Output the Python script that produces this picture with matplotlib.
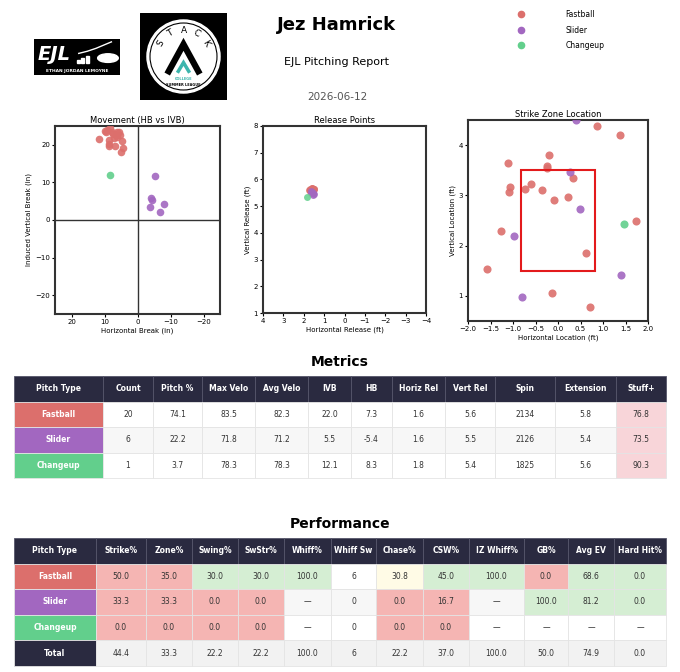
import matplotlib
matplotlib.use("Agg")
import matplotlib.pyplot as plt
from matplotlib.patches import Rectangle, Circle
from matplotlib.lines import Line2D
import numpy as np

W, H = 680, 672

# ---------------- data ----------------
pitch_types = ["Fastball", "Slider", "Changeup"]
pitch_colors = {"Fastball": "#dc6f6c", "Slider": "#a267c0", "Changeup": "#62cf8c"}

# movement (HB, IVB)
fb_hb = [11.7, 9.8, 9.5, 8.3, 8.7, 8.5, 8.5, 6.8, 7.3, 6.5, 6.1, 5.7, 5.3, 4.8, 4.3, 5.0, 7.8, 6.3, 9.1, 7.1]
fb_ivb = [21.6, 23.8, 23.3, 24.4, 21.3, 20.1, 19.6, 19.8, 22.9, 22.5, 22.0, 23.3, 22.5, 21.0, 19.1, 18.1, 23.5, 23.5, 24.0, 21.9]
sl_hb = [-5.4, -4.2, -4.3, -3.9, -8.1, -6.7]
sl_ivb = [11.8, 5.9, 5.3, 3.4, 4.3, 2.2]
ch_hb = [8.3]
ch_ivb = [12.1]

# release points
fb_rel_x = [1.62, 1.55, 1.68, 1.58, 1.71, 1.49, 1.64, 1.60, 1.53, 1.66, 1.57, 1.74, 1.61, 1.51, 1.65, 1.59, 1.70, 1.56, 1.63, 1.58]
fb_rel_z = [5.62, 5.58, 5.66, 5.55, 5.60, 5.63, 5.57, 5.68, 5.52, 5.61, 5.65, 5.59, 5.54, 5.64, 5.60, 5.67, 5.56, 5.62, 5.58, 5.63]
sl_rel_x = [1.52, 1.60, 1.57, 1.65, 1.55, 1.62]
sl_rel_z = [5.45, 5.52, 5.48, 5.55, 5.42, 5.50]
ch_rel_x = [1.82]
ch_rel_z = [5.36]

# plate location
fb_px = [0.86, 1.37, -1.11, -0.21, -0.24, -0.24, 0.33, -1.06, -1.10, -0.60, -0.74, -0.35, -0.10, 0.22, -1.27, 1.74, 0.62, -1.58, -0.14, 0.72]
fb_pz = [4.39, 4.20, 3.65, 3.81, 3.58, 3.54, 3.35, 3.16, 3.07, 3.22, 3.12, 3.10, 2.90, 2.97, 2.30, 2.50, 1.85, 1.53, 1.06, 0.77]
sl_px = [0.39, 0.27, 0.48, -0.97, -0.80, 1.40]
sl_pz = [4.50, 3.46, 2.73, 2.20, 0.97, 1.42]
ch_px = [1.46]
ch_pz = [2.44]

# metrics table
metric_cols = ["Pitch Type", "Count", "Pitch %", "Max Velo", "Avg Velo", "IVB", "HB",
               "Horiz Rel", "Vert Rel", "Spin", "Extension", "Stuff+"]
metric_rows = [
    ["Fastball", "20", "74.1", "83.5", "82.3", "22.0", "7.3", "1.6", "5.6", "2134", "5.8", "76.8"],
    ["Slider", "6", "22.2", "71.8", "71.2", "5.5", "-5.4", "1.6", "5.5", "2126", "5.4", "73.5"],
    ["Changeup", "1", "3.7", "78.3", "78.3", "12.1", "8.3", "1.8", "5.4", "1825", "5.6", "90.3"],
]
metric_widths = [89, 50, 49, 53, 53, 43, 41, 53, 50, 60, 61, 50]

# performance table
perf_cols = ["Pitch Type", "Strike%", "Zone%", "Swing%", "SwStr%", "Whiff%", "Whiff Sw",
             "Chase%", "CSW%", "IZ Whiff%", "GB%", "Avg EV", "Hard Hit%"]
perf_rows = [
    ["Fastball", "50.0", "35.0", "30.0", "30.0", "100.0", "6", "30.8", "45.0", "100.0", "0.0", "68.6", "0.0"],
    ["Slider", "33.3", "33.3", "0.0", "0.0", "\u2014", "0", "0.0", "16.7", "\u2014", "100.0", "81.2", "0.0"],
    ["Changeup", "0.0", "0.0", "0.0", "0.0", "\u2014", "0", "0.0", "0.0", "\u2014", "\u2014", "\u2014", "\u2014"],
    ["Total", "44.4", "33.3", "22.2", "22.2", "100.0", "6", "22.2", "37.0", "100.0", "50.0", "74.9", "0.0"],
]
# grade per cell: r = poor, g = good, y = neutral, '' = none
perf_grades = [
    ["r", "r", "g", "g", "g", "", "y", "g", "g", "r", "g", "g"],
    ["r", "r", "r", "r", "", "", "r", "r", "", "g", "g", "g"],
    ["r", "r", "r", "r", "", "", "r", "r", "", "", "", ""],
    ["", "", "", "", "", "", "", "", "", "", "", ""],
]
perf_widths = [82, 50, 46, 46, 46, 47, 45, 47, 46, 55, 44, 46, 52]

HEADER = "#2a2a40"
GRADE_COL = {"r": "#f5b5b3", "g": "#d5eed3", "y": "#fffbe6"}


def fig_rect(x0, y0, x1, y1):
    return [x0 / W, 1 - y1 / H, (x1 - x0) / W, (y1 - y0) / H]


fig = plt.figure(figsize=(W / 100, H / 100), dpi=100)
fig.patch.set_facecolor("white")

# ---------------- header ----------------
fig.text(337 / W, 1 - 25 / H, "Jez Hamrick", ha="center", va="center", fontsize=13, fontweight="bold")
fig.text(337 / W, 1 - 62 / H, "EJL Pitching Report", ha="center", va="center", fontsize=8)
fig.text(337 / W, 1 - 97 / H, "2026-06-12", ha="center", va="center", fontsize=7.5, color="#555555")

# EJL logo
ax_l1 = fig.add_axes(fig_rect(34, 39, 120, 75))
ax_l1.axis("off")
ax_l1.set_xlim(0, 1)
ax_l1.set_ylim(0, 1)
ax_l1.add_patch(Rectangle((0, 0), 1, 1, color="black"))
ax_l1.text(0.04, 0.56, "EJL", color="white", fontsize=14, fontweight="bold", style="italic", va="center", ha="left")
for i, hgt in enumerate([0.1, 0.15, 0.2]):
    ax_l1.add_patch(Rectangle((0.5 + i * 0.05, 0.33), 0.035, hgt, color="white"))
ax_l1.plot([0.52, 0.62, 0.72, 0.9], [0.6, 0.66, 0.74, 0.92], color="white", lw=1)
ax_l1.add_patch(Circle((0.86, 0.47), 0.12, color="white"))
ax_l1.text(0.5, 0.12, "ETHAN JORDAN LEMOYNE", color="white", fontsize=3.2, fontweight="bold", ha="center", va="center")

# STACK logo
ax_l2 = fig.add_axes(fig_rect(140, 13, 227, 100))
ax_l2.axis("off")
ax_l2.set_xlim(0, 1)
ax_l2.set_ylim(0, 1)
ax_l2.add_patch(Rectangle((0, 0), 1, 1, color="black"))
ax_l2.add_patch(Circle((0.5, 0.5), 0.42, color="white"))
ax_l2.add_patch(Circle((0.5, 0.5), 0.385, fill=False, ec="black", lw=0.8))
for ch, ang in zip("STACK", np.linspace(150, 30, 5)):
    a = np.deg2rad(ang)
    ax_l2.text(0.5 + 0.30 * np.cos(a), 0.5 + 0.30 * np.sin(a), ch, rotation=ang - 90,
               ha="center", va="center", fontsize=6.5, color="black")
ax_l2.plot([0.33, 0.5, 0.67], [0.33, 0.64, 0.33], color="black", lw=4.5, solid_joinstyle="miter")
ax_l2.plot([0.44, 0.5, 0.56], [0.33, 0.43, 0.33], color="#3cb5ad", lw=2.5, solid_joinstyle="miter")
ax_l2.text(0.5, 0.24, "COLLEGE", color="#3cb5ad", fontsize=2.5, ha="center", va="center", fontweight="bold")
ax_l2.text(0.5, 0.17, "SUMMER LEAGUE", color="black", fontsize=2.5, ha="center", va="center", fontweight="bold")

# legend
handles = [Line2D([], [], ls="", marker="o", ms=4.5, color=pitch_colors[p]) for p in pitch_types]
fig.legend(handles, pitch_types, loc="upper left", bbox_to_anchor=(502 / W, 1 - 3 / H),
           frameon=False, fontsize=5.5, handlelength=3.2, handletextpad=4.2, labelspacing=0.87)


def style_axes(ax, title, xlabel, ylabel):
    ax.set_title(title, fontsize=6, pad=2)
    ax.set_xlabel(xlabel, fontsize=5, labelpad=2)
    ax.set_ylabel(ylabel, fontsize=5, labelpad=2)
    ax.tick_params(labelsize=5, length=2, pad=1.5)
    for s in ax.spines.values():
        s.set_linewidth(1.5)
        s.set_color("#333333")


# ---------------- movement ----------------
ax1 = fig.add_axes(fig_rect(55, 126, 220, 314))
ax1.axhline(0, color="#333333", lw=1, zorder=1)
ax1.axvline(0, color="#333333", lw=1, zorder=1)
ax1.scatter(fb_hb, fb_ivb, s=30, color=pitch_colors["Fastball"], lw=0, alpha=0.9, zorder=3)
ax1.scatter(sl_hb, sl_ivb, s=30, color=pitch_colors["Slider"], lw=0, alpha=0.9, zorder=3)
ax1.scatter(ch_hb, ch_ivb, s=30, color=pitch_colors["Changeup"], lw=0, alpha=0.9, zorder=3)
ax1.set_xlim(25, -25)
ax1.set_ylim(-25, 25)
ax1.set_xticks([20, 10, 0, -10, -20])
ax1.set_yticks([-20, -10, 0, 10, 20])
style_axes(ax1, "Movement (HB vs IVB)", "Horizontal Break (in)", "Induced Vertical Break (in)")

# ---------------- release ----------------
ax2 = fig.add_axes(fig_rect(263, 126, 426, 313))
ax2.scatter(fb_rel_x, fb_rel_z, s=25, color=pitch_colors["Fastball"], lw=0, alpha=0.85, zorder=3)
ax2.scatter(sl_rel_x, sl_rel_z, s=25, color=pitch_colors["Slider"], lw=0, alpha=0.85, zorder=3)
ax2.scatter(ch_rel_x, ch_rel_z, s=25, color=pitch_colors["Changeup"], lw=0, alpha=0.85, zorder=3)
ax2.set_xlim(4, -4)
ax2.set_ylim(1, 8)
ax2.set_xticks(range(4, -5, -1))
ax2.set_yticks(range(1, 9))
style_axes(ax2, "Release Points", "Horizontal Release (ft)", "Vertical Release (ft)")

# ---------------- strike zone ----------------
ax3 = fig.add_axes(fig_rect(468, 120, 648, 321))
ax3.scatter(fb_px, fb_pz, s=34, color=pitch_colors["Fastball"], lw=0, alpha=0.9, zorder=3)
ax3.scatter(sl_px, sl_pz, s=34, color=pitch_colors["Slider"], lw=0, alpha=0.9, zorder=3)
ax3.scatter(ch_px, ch_pz, s=34, color=pitch_colors["Changeup"], lw=0, alpha=0.9, zorder=3)
ax3.add_patch(Rectangle((-0.83, 1.5), 1.66, 2.0, fill=False, ec="#e31a1c", lw=1.5, zorder=4))
ax3.set_xlim(-2, 2)
ax3.set_ylim(0.5, 4.5)
ax3.set_xticks(np.arange(-2, 2.01, 0.5))
ax3.set_yticks([1, 2, 3, 4])
style_axes(ax3, "Strike Zone Location", "Horizontal Location (ft)", "Vertical Location (ft)")


# ---------------- tables ----------------
def draw_table(rect, cols, rows, widths, fills):
    ax = fig.add_axes(rect)
    ax.axis("off")
    tot = float(sum(widths))
    tb = ax.table(cellText=rows, colLabels=cols, colWidths=[w / tot for w in widths],
                  cellLoc="center", bbox=[0, 0, 1, 1])
    tb.auto_set_font_size(False)
    tb.set_fontsize(5.5)
    for (r, c), cell in tb.get_celld().items():
        cell.set_linewidth(0.6)
        if r == 0:
            cell.set_facecolor(HEADER)
            cell.set_edgecolor("#55556a")
            cell.get_text().set_color("white")
            cell.get_text().set_fontweight("bold")
        elif c == 0:
            name = rows[r - 1][0]
            cell.set_facecolor(pitch_colors.get(name, HEADER))
            cell.set_edgecolor("#e4e4e4")
            cell._loc = "left"
            cell.PAD = 0.08
            cell.get_text().set_color("white")
            cell.get_text().set_fontweight("bold")
        else:
            cell.set_facecolor(fills[r - 1][c - 1])
            cell.set_edgecolor("#e4e4e4")
            cell.get_text().set_color("#333333")
    return ax


m_fills = []
for i, row in enumerate(metric_rows):
    base = "white" if i % 2 == 0 else "#f7f7f7"
    m_fills.append([base] * (len(row) - 2) + ["#f8d5d9"])

p_fills = []
for i, grades in enumerate(perf_grades):
    if i == len(perf_grades) - 1:
        base = "#f2f2f2"
    else:
        base = "white" if i % 2 == 0 else "#f7f7f7"
    p_fills.append([GRADE_COL.get(g, base) for g in grades])

fig.text(340 / W, 1 - 362 / H, "Metrics", ha="center", va="center", fontsize=10, fontweight="bold")
draw_table(fig_rect(14, 376, 666, 478), metric_cols, metric_rows, metric_widths, m_fills)

fig.text(340 / W, 1 - 524 / H, "Performance", ha="center", va="center", fontsize=10, fontweight="bold")
draw_table(fig_rect(14, 538, 666, 666), perf_cols, perf_rows, perf_widths, p_fills)

fig.savefig("out.png", dpi=100, facecolor="white")
